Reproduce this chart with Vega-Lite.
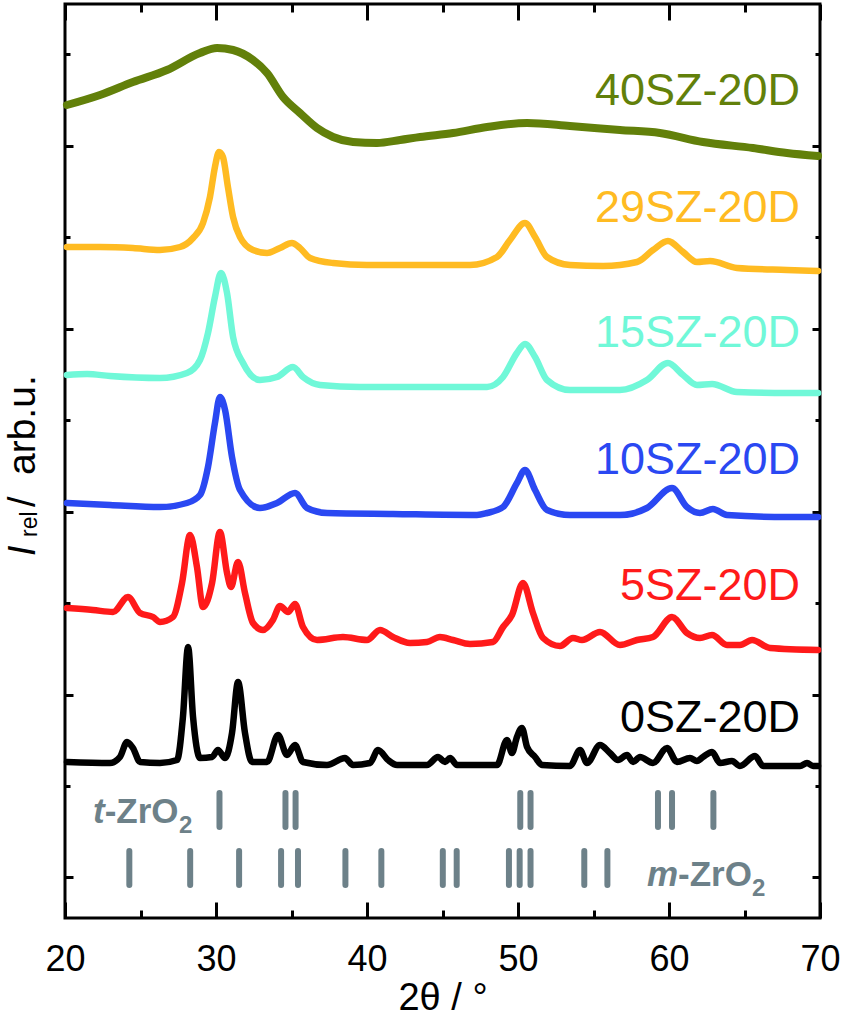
{
  "$schema": "https://vega.github.io/schema/vega-lite/v6.json",
  "autosize": {"type": "none"},
  "padding": {"left": 65, "top": 4, "right": 23, "bottom": 100},
  "width": 755,
  "height": 914,
  "background": "white",
  "config": {
    "view": {"stroke": "black", "strokeWidth": 3},
    "font": "Liberation Sans"
  },
  "datasets": {
    "curves": [
      {"sample": "40SZ-20D", "two_theta": 20.13, "intensity": 813},
      {"sample": "40SZ-20D", "two_theta": 22.32, "intensity": 823},
      {"sample": "40SZ-20D", "two_theta": 24.5, "intensity": 836},
      {"sample": "40SZ-20D", "two_theta": 26.75, "intensity": 848},
      {"sample": "40SZ-20D", "two_theta": 28.94, "intensity": 865},
      {"sample": "40SZ-20D", "two_theta": 30.07, "intensity": 870},
      {"sample": "40SZ-20D", "two_theta": 31.13, "intensity": 868},
      {"sample": "40SZ-20D", "two_theta": 32.45, "intensity": 858},
      {"sample": "40SZ-20D", "two_theta": 33.38, "intensity": 845},
      {"sample": "40SZ-20D", "two_theta": 34.44, "intensity": 821},
      {"sample": "40SZ-20D", "two_theta": 35.56, "intensity": 805},
      {"sample": "40SZ-20D", "two_theta": 36.69, "intensity": 790},
      {"sample": "40SZ-20D", "two_theta": 37.75, "intensity": 781},
      {"sample": "40SZ-20D", "two_theta": 39.07, "intensity": 776},
      {"sample": "40SZ-20D", "two_theta": 40.66, "intensity": 775},
      {"sample": "40SZ-20D", "two_theta": 42.19, "intensity": 778},
      {"sample": "40SZ-20D", "two_theta": 43.51, "intensity": 781},
      {"sample": "40SZ-20D", "two_theta": 45.7, "intensity": 785},
      {"sample": "40SZ-20D", "two_theta": 47.95, "intensity": 791},
      {"sample": "40SZ-20D", "two_theta": 50.6, "intensity": 795},
      {"sample": "40SZ-20D", "two_theta": 53.44, "intensity": 792},
      {"sample": "40SZ-20D", "two_theta": 56.75, "intensity": 788},
      {"sample": "40SZ-20D", "two_theta": 59.4, "intensity": 785},
      {"sample": "40SZ-20D", "two_theta": 62.25, "intensity": 776},
      {"sample": "40SZ-20D", "two_theta": 65.56, "intensity": 770},
      {"sample": "40SZ-20D", "two_theta": 67.81, "intensity": 765},
      {"sample": "40SZ-20D", "two_theta": 69.87, "intensity": 762},

      {"sample": "29SZ-20D", "two_theta": 20.13, "intensity": 671},
      {"sample": "29SZ-20D", "two_theta": 22.32, "intensity": 671},
      {"sample": "29SZ-20D", "two_theta": 24.5, "intensity": 670},
      {"sample": "29SZ-20D", "two_theta": 26.29, "intensity": 668},
      {"sample": "29SZ-20D", "two_theta": 27.62, "intensity": 671},
      {"sample": "29SZ-20D", "two_theta": 28.48, "intensity": 680},
      {"sample": "29SZ-20D", "two_theta": 29.14, "intensity": 695},
      {"sample": "29SZ-20D", "two_theta": 29.6, "intensity": 721},
      {"sample": "29SZ-20D", "two_theta": 29.93, "intensity": 751},
      {"sample": "29SZ-20D", "two_theta": 30.2, "intensity": 766},
      {"sample": "29SZ-20D", "two_theta": 30.46, "intensity": 761},
      {"sample": "29SZ-20D", "two_theta": 30.79, "intensity": 731},
      {"sample": "29SZ-20D", "two_theta": 31.13, "intensity": 701},
      {"sample": "29SZ-20D", "two_theta": 31.59, "intensity": 681},
      {"sample": "29SZ-20D", "two_theta": 32.45, "intensity": 668},
      {"sample": "29SZ-20D", "two_theta": 33.38, "intensity": 665},
      {"sample": "29SZ-20D", "two_theta": 34.24, "intensity": 670},
      {"sample": "29SZ-20D", "two_theta": 35.03, "intensity": 675},
      {"sample": "29SZ-20D", "two_theta": 35.56, "intensity": 670},
      {"sample": "29SZ-20D", "two_theta": 36.23, "intensity": 660},
      {"sample": "29SZ-20D", "two_theta": 37.75, "intensity": 655},
      {"sample": "29SZ-20D", "two_theta": 40.0, "intensity": 653},
      {"sample": "29SZ-20D", "two_theta": 43.51, "intensity": 653},
      {"sample": "29SZ-20D", "two_theta": 46.82, "intensity": 653},
      {"sample": "29SZ-20D", "two_theta": 48.61, "intensity": 661},
      {"sample": "29SZ-20D", "two_theta": 49.47, "intensity": 678},
      {"sample": "29SZ-20D", "two_theta": 50.46, "intensity": 695},
      {"sample": "29SZ-20D", "two_theta": 51.13, "intensity": 681},
      {"sample": "29SZ-20D", "two_theta": 51.92, "intensity": 661},
      {"sample": "29SZ-20D", "two_theta": 53.44, "intensity": 653},
      {"sample": "29SZ-20D", "two_theta": 55.63, "intensity": 652},
      {"sample": "29SZ-20D", "two_theta": 57.88, "intensity": 656},
      {"sample": "29SZ-20D", "two_theta": 58.94, "intensity": 668},
      {"sample": "29SZ-20D", "two_theta": 59.93, "intensity": 677},
      {"sample": "29SZ-20D", "two_theta": 60.93, "intensity": 666},
      {"sample": "29SZ-20D", "two_theta": 61.85, "intensity": 656},
      {"sample": "29SZ-20D", "two_theta": 62.72, "intensity": 657},
      {"sample": "29SZ-20D", "two_theta": 64.5, "intensity": 650},
      {"sample": "29SZ-20D", "two_theta": 67.81, "intensity": 648},
      {"sample": "29SZ-20D", "two_theta": 69.87, "intensity": 647},

      {"sample": "15SZ-20D", "two_theta": 20.13, "intensity": 543},
      {"sample": "15SZ-20D", "two_theta": 21.46, "intensity": 544},
      {"sample": "15SZ-20D", "two_theta": 22.98, "intensity": 542},
      {"sample": "15SZ-20D", "two_theta": 26.29, "intensity": 540},
      {"sample": "15SZ-20D", "two_theta": 28.08, "intensity": 545},
      {"sample": "15SZ-20D", "two_theta": 28.94, "intensity": 558},
      {"sample": "15SZ-20D", "two_theta": 29.47, "intensity": 585},
      {"sample": "15SZ-20D", "two_theta": 29.93, "intensity": 621},
      {"sample": "15SZ-20D", "two_theta": 30.33, "intensity": 645},
      {"sample": "15SZ-20D", "two_theta": 30.73, "intensity": 625},
      {"sample": "15SZ-20D", "two_theta": 31.13, "intensity": 581},
      {"sample": "15SZ-20D", "two_theta": 31.79, "intensity": 555},
      {"sample": "15SZ-20D", "two_theta": 32.91, "intensity": 538},
      {"sample": "15SZ-20D", "two_theta": 34.04, "intensity": 541},
      {"sample": "15SZ-20D", "two_theta": 35.1, "intensity": 551},
      {"sample": "15SZ-20D", "two_theta": 35.76, "intensity": 541},
      {"sample": "15SZ-20D", "two_theta": 36.89, "intensity": 533},
      {"sample": "15SZ-20D", "two_theta": 39.54, "intensity": 531},
      {"sample": "15SZ-20D", "two_theta": 43.97, "intensity": 531},
      {"sample": "15SZ-20D", "two_theta": 47.95, "intensity": 531},
      {"sample": "15SZ-20D", "two_theta": 49.01, "intensity": 541},
      {"sample": "15SZ-20D", "two_theta": 49.93, "intensity": 565},
      {"sample": "15SZ-20D", "two_theta": 50.46, "intensity": 574},
      {"sample": "15SZ-20D", "two_theta": 51.13, "intensity": 561},
      {"sample": "15SZ-20D", "two_theta": 51.92, "intensity": 538},
      {"sample": "15SZ-20D", "two_theta": 53.44, "intensity": 528},
      {"sample": "15SZ-20D", "two_theta": 56.75, "intensity": 528},
      {"sample": "15SZ-20D", "two_theta": 58.54, "intensity": 538},
      {"sample": "15SZ-20D", "two_theta": 59.93, "intensity": 555},
      {"sample": "15SZ-20D", "two_theta": 60.93, "intensity": 543},
      {"sample": "15SZ-20D", "two_theta": 61.85, "intensity": 533},
      {"sample": "15SZ-20D", "two_theta": 62.85, "intensity": 534},
      {"sample": "15SZ-20D", "two_theta": 64.5, "intensity": 526},
      {"sample": "15SZ-20D", "two_theta": 67.81, "intensity": 525},
      {"sample": "15SZ-20D", "two_theta": 69.87, "intensity": 525},

      {"sample": "10SZ-20D", "two_theta": 20.13, "intensity": 415},
      {"sample": "10SZ-20D", "two_theta": 22.98, "intensity": 413},
      {"sample": "10SZ-20D", "two_theta": 26.29, "intensity": 411},
      {"sample": "10SZ-20D", "two_theta": 28.08, "intensity": 415},
      {"sample": "10SZ-20D", "two_theta": 28.94, "intensity": 423},
      {"sample": "10SZ-20D", "two_theta": 29.47, "intensity": 451},
      {"sample": "10SZ-20D", "two_theta": 29.93, "intensity": 495},
      {"sample": "10SZ-20D", "two_theta": 30.26, "intensity": 521},
      {"sample": "10SZ-20D", "two_theta": 30.6, "intensity": 508},
      {"sample": "10SZ-20D", "two_theta": 31.06, "intensity": 461},
      {"sample": "10SZ-20D", "two_theta": 31.59, "intensity": 428},
      {"sample": "10SZ-20D", "two_theta": 32.91, "intensity": 410},
      {"sample": "10SZ-20D", "two_theta": 34.04, "intensity": 415},
      {"sample": "10SZ-20D", "two_theta": 35.23, "intensity": 425},
      {"sample": "10SZ-20D", "two_theta": 36.03, "intensity": 410},
      {"sample": "10SZ-20D", "two_theta": 37.35, "intensity": 405},
      {"sample": "10SZ-20D", "two_theta": 41.72, "intensity": 404},
      {"sample": "10SZ-20D", "two_theta": 47.28, "intensity": 403},
      {"sample": "10SZ-20D", "two_theta": 47.95, "intensity": 405},
      {"sample": "10SZ-20D", "two_theta": 49.01, "intensity": 411},
      {"sample": "10SZ-20D", "two_theta": 49.93, "intensity": 435},
      {"sample": "10SZ-20D", "two_theta": 50.46, "intensity": 448},
      {"sample": "10SZ-20D", "two_theta": 51.13, "intensity": 428},
      {"sample": "10SZ-20D", "two_theta": 51.92, "intensity": 408},
      {"sample": "10SZ-20D", "two_theta": 53.44, "intensity": 403},
      {"sample": "10SZ-20D", "two_theta": 56.75, "intensity": 403},
      {"sample": "10SZ-20D", "two_theta": 58.54, "intensity": 410},
      {"sample": "10SZ-20D", "two_theta": 60.2, "intensity": 430},
      {"sample": "10SZ-20D", "two_theta": 61.19, "intensity": 411},
      {"sample": "10SZ-20D", "two_theta": 62.05, "intensity": 405},
      {"sample": "10SZ-20D", "two_theta": 62.91, "intensity": 409},
      {"sample": "10SZ-20D", "two_theta": 63.84, "intensity": 403},
      {"sample": "10SZ-20D", "two_theta": 67.81, "intensity": 401},
      {"sample": "10SZ-20D", "two_theta": 69.87, "intensity": 401},

      {"sample": "5SZ-20D", "two_theta": 20.13, "intensity": 310},
      {"sample": "5SZ-20D", "two_theta": 21.85, "intensity": 308},
      {"sample": "5SZ-20D", "two_theta": 23.18, "intensity": 306},
      {"sample": "5SZ-20D", "two_theta": 24.17, "intensity": 321},
      {"sample": "5SZ-20D", "two_theta": 24.97, "intensity": 305},
      {"sample": "5SZ-20D", "two_theta": 25.83, "intensity": 301},
      {"sample": "5SZ-20D", "two_theta": 26.29, "intensity": 296},
      {"sample": "5SZ-20D", "two_theta": 27.15, "intensity": 301},
      {"sample": "5SZ-20D", "two_theta": 27.75, "intensity": 335},
      {"sample": "5SZ-20D", "two_theta": 28.28, "intensity": 383},
      {"sample": "5SZ-20D", "two_theta": 28.74, "intensity": 351},
      {"sample": "5SZ-20D", "two_theta": 29.14, "intensity": 311},
      {"sample": "5SZ-20D", "two_theta": 29.74, "intensity": 335},
      {"sample": "5SZ-20D", "two_theta": 30.26, "intensity": 386},
      {"sample": "5SZ-20D", "two_theta": 30.73, "intensity": 345},
      {"sample": "5SZ-20D", "two_theta": 30.99, "intensity": 331},
      {"sample": "5SZ-20D", "two_theta": 31.46, "intensity": 356},
      {"sample": "5SZ-20D", "two_theta": 31.92, "intensity": 325},
      {"sample": "5SZ-20D", "two_theta": 32.45, "intensity": 295},
      {"sample": "5SZ-20D", "two_theta": 33.11, "intensity": 288},
      {"sample": "5SZ-20D", "two_theta": 33.77, "intensity": 298},
      {"sample": "5SZ-20D", "two_theta": 34.24, "intensity": 312},
      {"sample": "5SZ-20D", "two_theta": 34.77, "intensity": 306},
      {"sample": "5SZ-20D", "two_theta": 35.23, "intensity": 314},
      {"sample": "5SZ-20D", "two_theta": 35.76, "intensity": 291},
      {"sample": "5SZ-20D", "two_theta": 36.69, "intensity": 278},
      {"sample": "5SZ-20D", "two_theta": 38.41, "intensity": 281},
      {"sample": "5SZ-20D", "two_theta": 40.0, "intensity": 278},
      {"sample": "5SZ-20D", "two_theta": 40.86, "intensity": 288},
      {"sample": "5SZ-20D", "two_theta": 41.72, "intensity": 281},
      {"sample": "5SZ-20D", "two_theta": 42.85, "intensity": 275},
      {"sample": "5SZ-20D", "two_theta": 43.97, "intensity": 276},
      {"sample": "5SZ-20D", "two_theta": 44.83, "intensity": 281},
      {"sample": "5SZ-20D", "two_theta": 45.7, "intensity": 278},
      {"sample": "5SZ-20D", "two_theta": 46.82, "intensity": 274},
      {"sample": "5SZ-20D", "two_theta": 48.34, "intensity": 276},
      {"sample": "5SZ-20D", "two_theta": 49.01, "intensity": 291},
      {"sample": "5SZ-20D", "two_theta": 49.6, "intensity": 303},
      {"sample": "5SZ-20D", "two_theta": 50.33, "intensity": 335},
      {"sample": "5SZ-20D", "two_theta": 50.99, "intensity": 305},
      {"sample": "5SZ-20D", "two_theta": 51.66, "intensity": 280},
      {"sample": "5SZ-20D", "two_theta": 52.78, "intensity": 272},
      {"sample": "5SZ-20D", "two_theta": 53.64, "intensity": 280},
      {"sample": "5SZ-20D", "two_theta": 54.24, "intensity": 278},
      {"sample": "5SZ-20D", "two_theta": 55.43, "intensity": 286},
      {"sample": "5SZ-20D", "two_theta": 56.75, "intensity": 273},
      {"sample": "5SZ-20D", "two_theta": 57.88, "intensity": 278},
      {"sample": "5SZ-20D", "two_theta": 58.94, "intensity": 281},
      {"sample": "5SZ-20D", "two_theta": 60.2, "intensity": 301},
      {"sample": "5SZ-20D", "two_theta": 61.19, "intensity": 285},
      {"sample": "5SZ-20D", "two_theta": 62.05, "intensity": 280},
      {"sample": "5SZ-20D", "two_theta": 62.85, "intensity": 283},
      {"sample": "5SZ-20D", "two_theta": 63.84, "intensity": 273},
      {"sample": "5SZ-20D", "two_theta": 64.7, "intensity": 273},
      {"sample": "5SZ-20D", "two_theta": 65.5, "intensity": 278},
      {"sample": "5SZ-20D", "two_theta": 66.69, "intensity": 270},
      {"sample": "5SZ-20D", "two_theta": 69.87, "intensity": 268},

      {"sample": "0SZ-20D", "two_theta": 20.13, "intensity": 156},
      {"sample": "0SZ-20D", "two_theta": 22.98, "intensity": 155},
      {"sample": "0SZ-20D", "two_theta": 23.64, "intensity": 161},
      {"sample": "0SZ-20D", "two_theta": 24.11, "intensity": 176},
      {"sample": "0SZ-20D", "two_theta": 24.5, "intensity": 170},
      {"sample": "0SZ-20D", "two_theta": 24.97, "intensity": 156},
      {"sample": "0SZ-20D", "two_theta": 26.29, "intensity": 155},
      {"sample": "0SZ-20D", "two_theta": 27.42, "intensity": 158},
      {"sample": "0SZ-20D", "two_theta": 27.81, "intensity": 201},
      {"sample": "0SZ-20D", "two_theta": 28.15, "intensity": 271},
      {"sample": "0SZ-20D", "two_theta": 28.48, "intensity": 201},
      {"sample": "0SZ-20D", "two_theta": 28.94, "intensity": 160},
      {"sample": "0SZ-20D", "two_theta": 29.74, "intensity": 161},
      {"sample": "0SZ-20D", "two_theta": 30.13, "intensity": 168},
      {"sample": "0SZ-20D", "two_theta": 30.6, "intensity": 160},
      {"sample": "0SZ-20D", "two_theta": 31.06, "intensity": 185},
      {"sample": "0SZ-20D", "two_theta": 31.46, "intensity": 236},
      {"sample": "0SZ-20D", "two_theta": 31.92, "intensity": 185},
      {"sample": "0SZ-20D", "two_theta": 32.38, "intensity": 156},
      {"sample": "0SZ-20D", "two_theta": 33.38, "intensity": 156},
      {"sample": "0SZ-20D", "two_theta": 34.11, "intensity": 183},
      {"sample": "0SZ-20D", "two_theta": 34.7, "intensity": 163},
      {"sample": "0SZ-20D", "two_theta": 35.23, "intensity": 173},
      {"sample": "0SZ-20D", "two_theta": 35.76, "intensity": 156},
      {"sample": "0SZ-20D", "two_theta": 37.35, "intensity": 153},
      {"sample": "0SZ-20D", "two_theta": 38.54, "intensity": 160},
      {"sample": "0SZ-20D", "two_theta": 39.07, "intensity": 153},
      {"sample": "0SZ-20D", "two_theta": 40.2, "intensity": 155},
      {"sample": "0SZ-20D", "two_theta": 40.73, "intensity": 168},
      {"sample": "0SZ-20D", "two_theta": 41.39, "intensity": 158},
      {"sample": "0SZ-20D", "two_theta": 41.99, "intensity": 153},
      {"sample": "0SZ-20D", "two_theta": 43.97, "intensity": 153},
      {"sample": "0SZ-20D", "two_theta": 44.7, "intensity": 161},
      {"sample": "0SZ-20D", "two_theta": 45.17, "intensity": 156},
      {"sample": "0SZ-20D", "two_theta": 45.5, "intensity": 160},
      {"sample": "0SZ-20D", "two_theta": 45.96, "intensity": 153},
      {"sample": "0SZ-20D", "two_theta": 48.61, "intensity": 153},
      {"sample": "0SZ-20D", "two_theta": 49.27, "intensity": 178},
      {"sample": "0SZ-20D", "two_theta": 49.6, "intensity": 165},
      {"sample": "0SZ-20D", "two_theta": 49.93, "intensity": 181},
      {"sample": "0SZ-20D", "two_theta": 50.26, "intensity": 190},
      {"sample": "0SZ-20D", "two_theta": 50.6, "intensity": 171},
      {"sample": "0SZ-20D", "two_theta": 51.13, "intensity": 161},
      {"sample": "0SZ-20D", "two_theta": 51.59, "intensity": 153},
      {"sample": "0SZ-20D", "two_theta": 53.44, "intensity": 152},
      {"sample": "0SZ-20D", "two_theta": 54.11, "intensity": 168},
      {"sample": "0SZ-20D", "two_theta": 54.57, "intensity": 155},
      {"sample": "0SZ-20D", "two_theta": 55.43, "intensity": 173},
      {"sample": "0SZ-20D", "two_theta": 56.09, "intensity": 165},
      {"sample": "0SZ-20D", "two_theta": 56.62, "intensity": 158},
      {"sample": "0SZ-20D", "two_theta": 57.22, "intensity": 163},
      {"sample": "0SZ-20D", "two_theta": 57.62, "intensity": 156},
      {"sample": "0SZ-20D", "two_theta": 58.08, "intensity": 161},
      {"sample": "0SZ-20D", "two_theta": 58.94, "intensity": 155},
      {"sample": "0SZ-20D", "two_theta": 59.87, "intensity": 170},
      {"sample": "0SZ-20D", "two_theta": 60.53, "intensity": 156},
      {"sample": "0SZ-20D", "two_theta": 61.39, "intensity": 160},
      {"sample": "0SZ-20D", "two_theta": 61.85, "intensity": 157},
      {"sample": "0SZ-20D", "two_theta": 62.25, "intensity": 161},
      {"sample": "0SZ-20D", "two_theta": 62.85, "intensity": 166},
      {"sample": "0SZ-20D", "two_theta": 63.38, "intensity": 155},
      {"sample": "0SZ-20D", "two_theta": 64.17, "intensity": 157},
      {"sample": "0SZ-20D", "two_theta": 64.7, "intensity": 152},
      {"sample": "0SZ-20D", "two_theta": 65.7, "intensity": 162},
      {"sample": "0SZ-20D", "two_theta": 66.23, "intensity": 152},
      {"sample": "0SZ-20D", "two_theta": 68.68, "intensity": 152},
      {"sample": "0SZ-20D", "two_theta": 69.14, "intensity": 155},
      {"sample": "0SZ-20D", "two_theta": 69.54, "intensity": 152},
      {"sample": "0SZ-20D", "two_theta": 69.87, "intensity": 152}
    ],
    "labels": [
      {"sample": "40SZ-20D", "two_theta": 68.68, "intensity": 813},
      {"sample": "29SZ-20D", "two_theta": 68.68, "intensity": 696},
      {"sample": "15SZ-20D", "two_theta": 68.68, "intensity": 571},
      {"sample": "10SZ-20D", "two_theta": 68.68, "intensity": 444},
      {"sample": "5SZ-20D", "two_theta": 68.68, "intensity": 318},
      {"sample": "0SZ-20D", "two_theta": 68.68, "intensity": 186}
    ],
    "refs": [
      {"phase": "t", "two_theta": 30.23},
      {"phase": "t", "two_theta": 34.6},
      {"phase": "t", "two_theta": 35.27},
      {"phase": "t", "two_theta": 50.15},
      {"phase": "t", "two_theta": 50.83},
      {"phase": "t", "two_theta": 59.27},
      {"phase": "t", "two_theta": 60.2},
      {"phase": "t", "two_theta": 62.94},
      {"phase": "m", "two_theta": 24.26},
      {"phase": "m", "two_theta": 28.29},
      {"phase": "m", "two_theta": 31.53},
      {"phase": "m", "two_theta": 34.31},
      {"phase": "m", "two_theta": 35.43},
      {"phase": "m", "two_theta": 38.57},
      {"phase": "m", "two_theta": 40.95},
      {"phase": "m", "two_theta": 45.02},
      {"phase": "m", "two_theta": 45.94},
      {"phase": "m", "two_theta": 49.4},
      {"phase": "m", "two_theta": 50.11},
      {"phase": "m", "two_theta": 50.83},
      {"phase": "m", "two_theta": 54.39},
      {"phase": "m", "two_theta": 55.92}
    ]
  },
  "resolve": {"axis": {"x": "independent", "y": "independent"}},
  "layer": [
    {
      "data": {"name": "curves"},
      "mark": {"type": "line", "interpolate": "monotone", "strokeJoin": "round", "strokeCap": "round"},
      "encoding": {
        "x": {
          "field": "two_theta", "type": "quantitative",
          "scale": {"domain": [20, 70], "nice": false, "zero": false},
          "axis": {
            "orient": "bottom",
            "values": [20, 25, 30, 35, 40, 45, 50, 55, 60, 65, 70],
            "labelExpr": "datum.value % 10 === 0 ? datum.label : ''",
            "tickSize": {"condition": {"test": "datum.value % 10 === 0", "value": -16}, "value": -8},
            "tickWidth": 3, "tickColor": "black",
            "domain": false, "grid": false,
            "labelFont": "Liberation Sans", "labelFontSize": 36, "labelColor": "black",
            "labelPadding": 40, "labelFlush": false, "labelOverlap": false, "labelBound": false,
            "title": "2θ / °", "titleFont": "Liberation Sans", "titleFontSize": 38,
            "titleFontWeight": "normal", "titleColor": "black",
            "titleBaseline": "alphabetic", "titleY": 91
          }
        },
        "y": {
          "field": "intensity", "type": "quantitative",
          "scale": {"domain": [0, 914], "nice": false, "zero": false},
          "axis": {
            "orient": "left",
            "values": [41, 132, 223, 315, 406, 498, 589, 681, 772, 864],
            "labels": false, "title": null, "domain": false, "grid": false,
            "tickSize": {"condition": {"test": "indexof([41, 223, 406, 589, 772], datum.value) >= 0", "value": -8}, "value": -5},
            "tickWidth": 3, "tickColor": "black"
          }
        },
        "color": {
          "field": "sample", "type": "nominal", "legend": null,
          "scale": {
            "domain": ["40SZ-20D", "29SZ-20D", "15SZ-20D", "10SZ-20D", "5SZ-20D", "0SZ-20D"],
            "range": ["#62800a", "#ffbb22", "#70f8d8", "#2a48f2", "#ff1a1a", "#000000"]
          }
        },
        "strokeWidth": {"condition": {"test": "datum.sample === '40SZ-20D'", "value": 8}, "value": 6.5}
      }
    },
    {
      "data": {"name": "curves"},
      "mark": {"type": "line", "opacity": 0},
      "encoding": {
        "x": {
          "field": "two_theta", "type": "quantitative",
          "axis": {
            "orient": "top",
            "values": [20, 25, 30, 35, 40, 45, 50, 55, 60, 65, 70],
            "labels": false, "title": null, "domain": false, "grid": false,
            "tickSize": {"condition": {"test": "datum.value % 10 === 0", "value": -16}, "value": -8},
            "tickWidth": 3, "tickColor": "black"
          }
        },
        "y": {
          "field": "intensity", "type": "quantitative",
          "axis": {
            "orient": "right",
            "values": [41, 132, 223, 315, 406, 498, 589, 681, 772, 864],
            "labels": false, "title": null, "domain": false, "grid": false,
            "tickSize": {"condition": {"test": "indexof([41, 223, 406, 589, 772], datum.value) >= 0", "value": -8}, "value": -5},
            "tickWidth": 3, "tickColor": "black"
          }
        },
        "detail": {"field": "sample"}
      }
    },
    {
      "data": {"name": "refs"},
      "transform": [{"filter": "datum.phase === 't'"}],
      "mark": {"type": "rule", "strokeWidth": 6, "strokeCap": "round", "color": "#6d8189"},
      "encoding": {
        "x": {"field": "two_theta", "type": "quantitative", "axis": null},
        "y": {"datum": 91, "type": "quantitative", "axis": null},
        "y2": {"datum": 125}
      }
    },
    {
      "data": {"name": "refs"},
      "transform": [{"filter": "datum.phase === 'm'"}],
      "mark": {"type": "rule", "strokeWidth": 6, "strokeCap": "round", "color": "#6d8189"},
      "encoding": {
        "x": {"field": "two_theta", "type": "quantitative", "axis": null},
        "y": {"datum": 33, "type": "quantitative", "axis": null},
        "y2": {"datum": 67}
      }
    },
    {
      "data": {"name": "labels"},
      "mark": {"type": "text", "align": "right", "baseline": "alphabetic", "font": "Liberation Sans", "fontSize": 45},
      "encoding": {
        "x": {"field": "two_theta", "type": "quantitative", "axis": null},
        "y": {"field": "intensity", "type": "quantitative", "axis": null},
        "text": {"field": "sample"},
        "color": {"field": "sample", "type": "nominal", "legend": null}
      }
    },
    {
      "data": {"values": [{"txt": "t"}]},
      "mark": {"type": "text", "align": "right", "baseline": "alphabetic", "font": "Liberation Sans", "fontSize": 35, "fontWeight": "bold", "fontStyle": "italic", "color": "#6d8189"},
      "encoding": {
        "x": {"datum": 22.63, "type": "quantitative", "axis": null},
        "y": {"datum": 95, "type": "quantitative", "axis": null},
        "text": {"field": "txt"}
      }
    },
    {
      "data": {"values": [{"txt": "-ZrO"}]},
      "mark": {"type": "text", "align": "left", "baseline": "alphabetic", "font": "Liberation Sans", "fontSize": 35, "fontWeight": "bold", "color": "#6d8189"},
      "encoding": {
        "x": {"datum": 22.63, "type": "quantitative", "axis": null},
        "y": {"datum": 95, "type": "quantitative", "axis": null},
        "text": {"field": "txt"}
      }
    },
    {
      "data": {"values": [{"txt": "2"}]},
      "mark": {"type": "text", "align": "left", "baseline": "alphabetic", "font": "Liberation Sans", "fontSize": 24, "fontWeight": "bold", "color": "#6d8189"},
      "encoding": {
        "x": {"datum": 27.55, "type": "quantitative", "axis": null},
        "y": {"datum": 85, "type": "quantitative", "axis": null},
        "text": {"field": "txt"}
      }
    },
    {
      "data": {"values": [{"txt": "m"}]},
      "mark": {"type": "text", "align": "right", "baseline": "alphabetic", "font": "Liberation Sans", "fontSize": 35, "fontWeight": "bold", "fontStyle": "italic", "color": "#6d8189"},
      "encoding": {
        "x": {"datum": 60.6, "type": "quantitative", "axis": null},
        "y": {"datum": 32, "type": "quantitative", "axis": null},
        "text": {"field": "txt"}
      }
    },
    {
      "data": {"values": [{"txt": "-ZrO"}]},
      "mark": {"type": "text", "align": "left", "baseline": "alphabetic", "font": "Liberation Sans", "fontSize": 35, "fontWeight": "bold", "color": "#6d8189"},
      "encoding": {
        "x": {"datum": 60.6, "type": "quantitative", "axis": null},
        "y": {"datum": 32, "type": "quantitative", "axis": null},
        "text": {"field": "txt"}
      }
    },
    {
      "data": {"values": [{"txt": "2"}]},
      "mark": {"type": "text", "align": "left", "baseline": "alphabetic", "font": "Liberation Sans", "fontSize": 24, "fontWeight": "bold", "color": "#6d8189"},
      "encoding": {
        "x": {"datum": 65.5, "type": "quantitative", "axis": null},
        "y": {"datum": 22, "type": "quantitative", "axis": null},
        "text": {"field": "txt"}
      }
    },
    {
      "data": {"values": [{"txt": "I"}]},
      "mark": {"type": "text", "angle": 270, "align": "left", "baseline": "alphabetic", "font": "Liberation Sans", "fontSize": 38, "fontStyle": "italic", "color": "black"},
      "encoding": {
        "x": {"datum": 18.01, "type": "quantitative", "axis": null},
        "y": {"datum": 362, "type": "quantitative", "axis": null},
        "text": {"field": "txt"}
      }
    },
    {
      "data": {"values": [{"txt": "rel"}]},
      "mark": {"type": "text", "angle": 270, "align": "left", "baseline": "alphabetic", "font": "Liberation Sans", "fontSize": 23, "color": "black"},
      "encoding": {
        "x": {"datum": 18.15, "type": "quantitative", "axis": null},
        "y": {"datum": 381, "type": "quantitative", "axis": null},
        "text": {"field": "txt"}
      }
    },
    {
      "data": {"values": [{"txt": "/"}]},
      "mark": {"type": "text", "angle": 270, "align": "left", "baseline": "alphabetic", "font": "Liberation Sans", "fontSize": 38, "color": "black"},
      "encoding": {
        "x": {"datum": 18.01, "type": "quantitative", "axis": null},
        "y": {"datum": 411, "type": "quantitative", "axis": null},
        "text": {"field": "txt"}
      }
    },
    {
      "data": {"values": [{"txt": "arb.u."}]},
      "mark": {"type": "text", "angle": 270, "align": "left", "baseline": "alphabetic", "font": "Liberation Sans", "fontSize": 39, "color": "black"},
      "encoding": {
        "x": {"datum": 18.01, "type": "quantitative", "axis": null},
        "y": {"datum": 443, "type": "quantitative", "axis": null},
        "text": {"field": "txt"}
      }
    }
  ]
}
